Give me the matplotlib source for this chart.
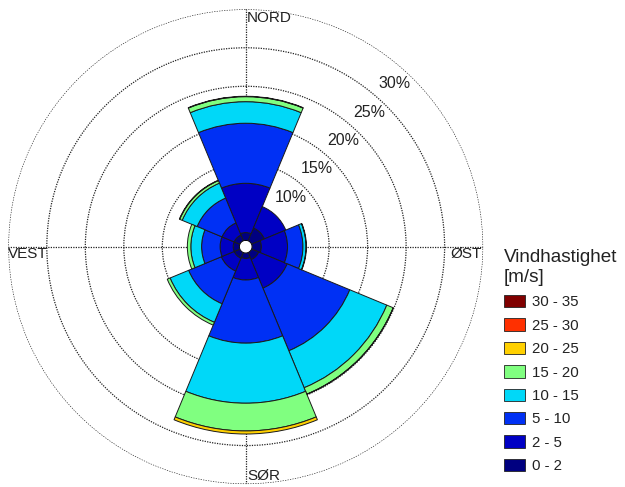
import numpy as np
import matplotlib
matplotlib.use("Agg")
import matplotlib.pyplot as plt
from matplotlib.patches import Patch

plt.rcParams['font.family'] = ['Liberation Sans', 'DejaVu Sans']

# --- data: frequency (%) per direction and wind speed class ---
directions = ['N', 'NO', 'O', 'SO', 'S', 'SV', 'V', 'NV']
dir_angles = [0, 45, 90, 135, 180, 225, 270, 315]
speed_bins = ['0 - 2', '2 - 5', '5 - 10', '10 - 15', '15 - 20',
              '20 - 25', '25 - 30', '30 - 35']
bin_colors = ['#000080', '#0000C4', '#0030F4', '#00D8F8', '#80FF80',
              '#FFD000', '#FF3000', '#800000']

freq_0_2 = [1.0, 1.8, 1.2, 1.0, 0.7, 0.8, 0.8, 0.8]
freq_2_5 = [6.4, 3.0, 3.4, 4.0, 2.8, 1.8, 1.7, 1.7]
freq_5_10 = [7.8, 0.0, 2.0, 8.8, 8.2, 4.6, 2.4, 3.5]
freq_10_15 = [2.8, 0.0, 0.4, 5.2, 7.8, 2.6, 1.4, 2.1]
freq_15_20 = [0.65, 0.0, 0.05, 0.9, 3.6, 0.4, 0.45, 0.35]
freq_20_25 = [0.05, 0.0, 0.0, 0.03, 0.4, 0.0, 0.0, 0.05]
freq_25_30 = [0, 0, 0, 0, 0, 0, 0, 0]
freq_30_35 = [0, 0, 0, 0, 0, 0, 0, 0]

freq_table = [freq_0_2, freq_2_5, freq_5_10, freq_10_15, freq_15_20,
              freq_20_25, freq_25_30, freq_30_35]

ring_values = [10, 15, 20, 25, 30]

# --- figure ---
fig = plt.figure(figsize=(6.25, 4.87), dpi=100)
ax = fig.add_axes([0.0133, 0.006, 0.7597, 0.975], projection='polar')
ax.set_theta_zero_location('N')
ax.set_theta_direction(-1)

theta = np.radians(dir_angles)
bottom = np.zeros(len(directions))
for vals, col in zip(freq_table, bin_colors):
    vals = np.array(vals, dtype=float)
    mask = vals > 0
    if mask.any():
        ax.bar(theta[mask], vals[mask], width=np.pi / 4, bottom=bottom[mask],
               color=col, edgecolor='#1a1a1a', linewidth=0.7, zorder=3)
    bottom += vals

ax.set_rlim(0, 30)
ax.set_rorigin(-0.83)
ax.set_rticks(ring_values)
ax.set_yticklabels([])
ax.set_xticks(np.radians([0, 90, 180, 270]))
ax.set_xticklabels([])
ax.grid(True, color='#222222', linestyle=(0, (1, 1)), linewidth=0.9)
ax.spines['polar'].set_visible(False)
ax.set_axisbelow(True)

for v in ring_values:
    ax.text(np.radians(42.5), v - 2.15, f"{v}%", ha='center', va='center',
            fontsize=11.5, color='#222222', zorder=5)

# compass labels
ax.text(0.503, 0.997, "NORD", transform=ax.transAxes, ha='left', va='top',
        fontsize=11, color='#222222')
ax.text(0.998, 0.4985, "ØST", transform=ax.transAxes, ha='right', va='top',
        fontsize=11, color='#222222')
ax.text(0.503, 0.0086, "SØR", transform=ax.transAxes, ha='left',
        va='baseline', fontsize=11, color='#222222')
ax.text(0.0, 0.4985, "VEST", transform=ax.transAxes, ha='left', va='top',
        fontsize=11, color='#222222')

# legend, highest class first
handles = [Patch(facecolor=c, edgecolor='#222222', linewidth=0.6)
           for c in bin_colors[::-1]]
leg = fig.legend(handles, speed_bins[::-1], loc='upper left',
                 bbox_to_anchor=(0.806, 0.488), title='Vindhastighet\n[m/s]',
                 frameon=False, fontsize=10.8, title_fontsize=13.6,
                 alignment='left', handlelength=1.4, handleheight=0.9,
                 handletextpad=0.45, labelspacing=0.6, borderaxespad=0,
                 borderpad=0)
for t in leg.get_texts():
    t.set_color('#222222')
leg.get_title().set_color('#222222')

fig.savefig("out.png", dpi=100)
